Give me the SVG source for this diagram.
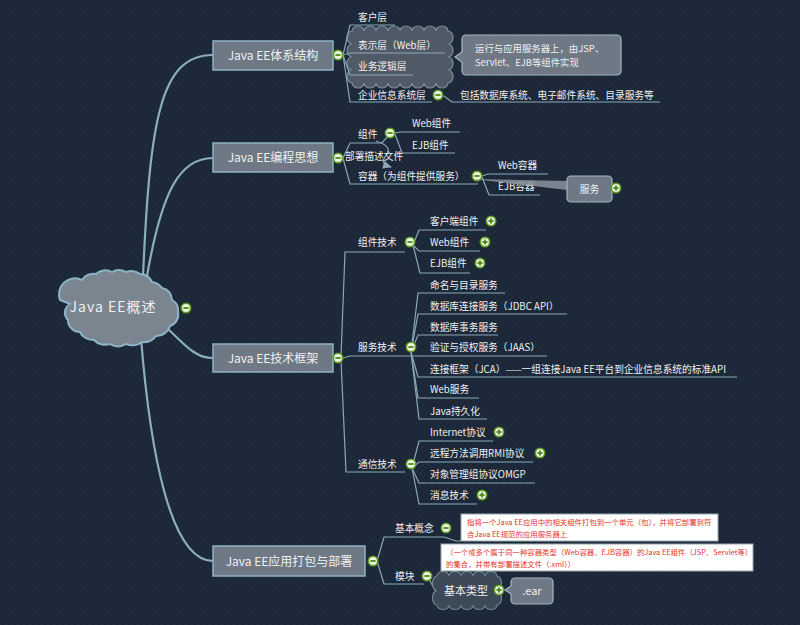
<svg xmlns="http://www.w3.org/2000/svg" xmlns:xlink="http://www.w3.org/1999/xlink" width="800" height="625" viewBox="0 0 800 625">
<defs>
<pattern id="tex" width="6" height="6" patternUnits="userSpaceOnUse">
<path d="M0 6 L6 0 M0 0 L6 6" stroke="#2c3c4f" stroke-width="0.6" opacity="0.45"/>
</pattern>
<marker id="arr" markerWidth="10" markerHeight="8" refX="8" refY="4" orient="auto" markerUnits="userSpaceOnUse">
<path d="M0 0 L9 4 L0 8 Z" fill="#8fa6b4"/>
</marker>
<g id="bm"><circle r="5.5" fill="#5c9c1f"/><circle r="3.9" fill="#eef4e2"/><rect x="-2.6" y="-0.9" width="5.2" height="1.8" fill="#4d8a18"/></g>
<g id="bp"><circle r="5.5" fill="#5c9c1f"/><circle r="3.9" fill="#eef4e2"/><rect x="-2.6" y="-0.9" width="5.2" height="1.8" fill="#4d8a18"/><rect x="-0.9" y="-2.6" width="1.8" height="5.2" fill="#4d8a18"/></g>
</defs>
<style>
.t{font-family:"Noto Sans CJK SC","Noto Sans",sans-serif;font-size:9.7px;fill:#f0f0f0}
.m{font-size:12px;text-anchor:middle}
.c{text-anchor:middle}
.n{font-size:7.4px;fill:#e5332a}
.box{fill:#6e7985;stroke:#8fb3c4;stroke-width:1.5}
.co{fill:#6e7985;stroke:#a2b6c2;stroke-width:1.2}
.main{fill:none;stroke:#8cafc0;stroke-width:2.2}
.ln{fill:none;stroke:#8aa8b7;stroke-width:1.2}
.note{fill:#ffffff;stroke:#9aa8b0;stroke-width:1}
</style>
<rect width="800" height="625" fill="#1b2737"/>
<rect width="800" height="625" fill="url(#tex)"/>

<g id="connectors">
<path class="main" d="M143 276 C150 120 160 55 213 55"/>
<path class="main" d="M147 276 C162 190 180 158 213 158"/>
<path class="main" d="M160 322 C182 340 192 358 213 358"/>
<path class="main" d="M141 338 C150 450 170 561 213 561"/>
</g>

<g id="boundary">
<path d="M352 31 a6 5 0 0 1 12 0 a6 5 0 0 1 12 0 a6 5 0 0 1 12 0 a6 5 0 0 1 12 0 a6 5 0 0 1 12 0 a6 5 0 0 1 12 0 a6 5 0 0 1 12 0 a6 5 0 0 1 12 0 a5 6.5 0 0 1 0 13 a5 6.5 0 0 1 0 13 a5 6.5 0 0 1 0 13 a5 6.5 0 0 1 0 13 a6 5 0 0 1 -12 0 a6 5 0 0 1 -12 0 a6 5 0 0 1 -12 0 a6 5 0 0 1 -12 0 a6 5 0 0 1 -12 0 a6 5 0 0 1 -12 0 a6 5 0 0 1 -12 0 a6 5 0 0 1 -12 0 a5 6.5 0 0 1 0 -13 a5 6.5 0 0 1 0 -13 a5 6.5 0 0 1 0 -13 a5 6.5 0 0 1 0 -13 Z" fill="#56616d" fill-opacity="0.9" stroke="#7b8e9a" stroke-width="1.2"/>
</g>

<g id="branch-lines">
<path class="ln" d="M343 55 L350 25 L395 25"/>
<path class="ln" d="M343 55 L350 53 L445 53"/>
<path class="ln" d="M343 55 L350 75 L413 75"/>
<path class="ln" d="M343 55 L350 102 L432 102"/>
<path class="ln" d="M444 96 L452 102 L660 102"/>

<path class="ln" d="M343 158 L350 143 L382 143 L388 136"/>
<path class="ln" d="M395 133 L400 132 L460 132"/>
<path class="ln" d="M395 134 L402 153 L455 153"/>
<path class="ln" d="M343 158 L350 184 L478 184"/>
<path class="ln" d="M482 176 L488 174 L548 174"/>
<path class="ln" d="M482 177 L489 195 L540 195"/>

<path class="ln" d="M341 356 L345 252 L405 252"/>
<path class="ln" d="M413 245 L419 230 L486 230"/>
<path class="ln" d="M413 245 L419 251 L480 251"/>
<path class="ln" d="M413 245 L420 273 L470 273"/>
<path class="ln" d="M343 358 L350 356 L547 356"/>
<path class="ln" d="M411 352 L418 293 L505 293"/>
<path class="ln" d="M411 352 L418 314 L567 314"/>
<path class="ln" d="M411 352 L418 335 L498 335"/>
<path class="ln" d="M411 352 L418 377 L737 377"/>
<path class="ln" d="M411 352 L418 398 L479 398"/>
<path class="ln" d="M411 352 L419 419 L487 419"/>
<path class="ln" d="M341 360 L346 472 L405 472"/>
<path class="ln" d="M412 468 L419 441 L493 441"/>
<path class="ln" d="M412 468 L419 462 L533 462"/>
<path class="ln" d="M412 468 L419 483 L535 483"/>
<path class="ln" d="M412 468 L419 504 L477 504"/>

<path class="ln" d="M377 561 L384 537 L444 537 L456 541 L461 541"/>
<path class="ln" d="M377 561 L384 584 L424 584"/>
<path class="ln" d="M429 579 L436 592"/>

<path d="M376 141 C406 151 368 160 391 167" fill="none" stroke="#8fa6b4" stroke-width="1.2" marker-end="url(#arr)"/>
</g>

<g id="root">
<path d="M60 300 a16 16 0 0 1 22 -20 a14 12 0 0 1 14 -6 a12 10 0 0 1 16 -2 a12 10 0 0 1 14 0 a14 12 0 0 1 14 2 a14 12 0 0 1 12 8 a14 14 0 0 1 10 6 a12 12 0 0 1 10 12 a12 12 0 0 1 6 12 a12 12 0 0 1 -8 14 a14 14 0 0 1 -14 10 a14 12 0 0 1 -14 6 a14 12 0 0 1 -16 2 a14 12 0 0 1 -16 0 a14 12 0 0 1 -16 -4 a14 12 0 0 1 -14 -8 a12 12 0 0 1 -12 -12 a10 10 0 0 1 2 -16 Z" fill="#7b8590" stroke="#8db3c6" stroke-width="2"/>
<text class="t c" x="113" y="312" style="font-size:14px;letter-spacing:1px">Java EE概述</text>
<use href="#bm" x="186" y="308"/>
</g>

<g id="n1">
<rect class="box" x="213" y="41" width="120" height="29"/>
<text class="t m" x="273" y="60">Java EE体系结构</text>
<use href="#bm" x="338" y="55"/>
</g>
<g id="n1-1"><text class="t" x="358" y="20.5">客户层</text></g>
<g id="n1-2"><text class="t" x="358" y="48.5">表示层（Web层）</text></g>
<g id="n1-3"><text class="t" x="358" y="69.5">业务逻辑层</text></g>
<g id="n1-4"><text class="t" x="358" y="98.5">企业信息系统层</text><use href="#bm" x="438" y="95"/></g>
<g id="n1-4-1"><text class="t" x="460" y="98.5">包括数据库系统、电子邮件系统、目录服务等</text></g>
<g id="callout1">
<path class="co" d="M466 35 H617 a4 4 0 0 1 4 4 V71 a4 4 0 0 1 -4 4 H466 a4 4 0 0 1 -4 -4 V62 L455 57 L462 52 V39 a4 4 0 0 1 4 -4 Z"/>
<text class="t" x="475" y="52" style="font-size:9.4px">运行与应用服务器上，由JSP、</text>
<text class="t" x="475" y="66" style="font-size:9.4px">Servlet、EJB等组件实现</text>
</g>

<g id="n2">
<rect class="box" x="213" y="143" width="120" height="29"/>
<text class="t m" x="273" y="162">Java EE编程思想</text>
<use href="#bm" x="338" y="158"/>
</g>
<g id="n2-1"><text class="t" x="358" y="137.5">组件</text><use href="#bm" x="390" y="133"/></g>
<g id="n2-1-1"><text class="t" x="412" y="126.5">Web组件</text></g>
<g id="n2-1-2"><text class="t" x="412" y="148.5">EJB组件</text></g>
<g id="rel-label"><text class="t" x="345" y="160">部署描述文件</text></g>
<g id="n2-2"><text class="t" x="358" y="179.5">容器（为组件提供服务）</text><use href="#bm" x="477" y="176"/></g>
<g id="n2-2-1"><text class="t" x="498" y="168.5">Web容器</text></g>
<g id="n2-2-2"><text class="t" x="498" y="189.5">EJB容器</text></g>
<g id="callout2">
<path d="M473 179 L567 181 L567 190 Z" fill="#8a949e" fill-opacity="0.85"/>
<rect class="co" x="567" y="176" width="45" height="26" rx="4"/>
<text class="t c" x="589.5" y="193">服务</text>
<use href="#bp" x="616" y="188"/>
</g>

<g id="n3">
<rect class="box" x="213" y="344" width="120" height="28"/>
<text class="t m" x="273" y="362.5">Java EE技术框架</text>
<use href="#bm" x="338" y="358"/>
</g>
<g id="n3-1"><text class="t" x="358" y="246">组件技术</text><use href="#bm" x="410" y="242"/></g>
<g id="n3-1-1"><text class="t" x="430" y="224.5">客户端组件</text><use href="#bp" x="491" y="221"/></g>
<g id="n3-1-2"><text class="t" x="430" y="245.5">Web组件</text><use href="#bp" x="485" y="242"/></g>
<g id="n3-1-3"><text class="t" x="430" y="266.5">EJB组件</text><use href="#bp" x="480" y="263"/></g>
<g id="n3-2"><text class="t" x="358" y="350.5">服务技术</text><use href="#bm" x="411" y="347"/></g>
<g id="n3-2-1"><text class="t" x="430" y="288.5">命名与目录服务</text></g>
<g id="n3-2-2"><text class="t" x="430" y="309.5">数据库连接服务（JDBC API）</text></g>
<g id="n3-2-3"><text class="t" x="430" y="330.5">数据库事务服务</text></g>
<g id="n3-2-4"><text class="t" x="430" y="350.5">验证与授权服务（JAAS）</text></g>
<g id="n3-2-5"><text class="t" x="430" y="372.5">连接框架（JCA）——一组连接Java EE平台到企业信息系统的标准API</text></g>
<g id="n3-2-6"><text class="t" x="430" y="392.5">Web服务</text></g>
<g id="n3-2-7"><text class="t" x="430" y="414.5">Java持久化</text></g>
<g id="n3-3"><text class="t" x="358" y="467.5">通信技术</text><use href="#bm" x="411" y="464"/></g>
<g id="n3-3-1"><text class="t" x="430" y="435.5">Internet协议</text><use href="#bp" x="499" y="432"/></g>
<g id="n3-3-2"><text class="t" x="430" y="456.5">远程方法调用RMI协议</text><use href="#bp" x="540" y="453"/></g>
<g id="n3-3-3"><text class="t" x="430" y="477.5">对象管理组协议OMGP</text></g>
<g id="n3-3-4"><text class="t" x="430" y="498.5">消息技术</text><use href="#bp" x="482" y="495"/></g>

<g id="n4">
<rect class="box" x="213" y="546" width="152" height="30"/>
<text class="t m" x="289" y="565.5">Java EE应用打包与部署</text>
<use href="#bm" x="373" y="561"/>
</g>
<g id="n4-1"><text class="t" x="395" y="531.5">基本概念</text><use href="#bm" x="446" y="528"/></g>
<g id="note1">
<rect class="note" x="461" y="514" width="257" height="27"/>
<text class="t n" x="467" y="525">指将一个Java EE应用中的相关组件打包到一个单元（包），并将它部署到符</text>
<text class="t n" x="467" y="536.5">合Java EE规范的应用服务器上</text>
</g>
<g id="n4-2-1">
<path d="M437 576 a6 4.5 0 0 1 12 0 a6 4.5 0 0 1 12 0 a6 4.5 0 0 1 12 0 a6 4.5 0 0 1 12 0 a6 4.5 0 0 1 12 0 a4.5 7.25 0 0 1 0 14.5 a4.5 7.25 0 0 1 0 14.5 a6 4.5 0 0 1 -12 0 a6 4.5 0 0 1 -12 0 a6 4.5 0 0 1 -12 0 a6 4.5 0 0 1 -12 0 a6 4.5 0 0 1 -12 0 a4.5 7.25 0 0 1 0 -14.5 a4.5 7.25 0 0 1 0 -14.5 Z" fill="#3d4956" stroke="#6d8290" stroke-width="1.2"/>
<text class="t c" x="466" y="595" style="font-size:11px">基本类型</text>
<use href="#bp" x="499" y="590"/>
</g>
<g id="n4-2"><text class="t" x="395" y="579.5">模块</text><use href="#bm" x="427" y="576"/></g>
<g id="note2">
<rect class="note" x="441" y="544" width="312" height="27"/>
<text class="t n" x="446" y="555">（一个或多个属于同一种容器类型（Web容器、EJB容器）的Java EE组件（JSP、Servlet等）</text>
<text class="t n" x="446" y="566.5">的集合，并带有部署描述文件（.xml））</text>
</g>
<g id="callout3">
<path class="co" d="M515 578 H549 a4 4 0 0 1 4 4 V600 a4 4 0 0 1 -4 4 H515 a4 4 0 0 1 -4 -4 V594 L505 590 L511 586 V582 a4 4 0 0 1 4 -4 Z"/>
<text class="t c" x="532" y="595" style="font-size:11px">.ear</text>
</g>
</svg>
